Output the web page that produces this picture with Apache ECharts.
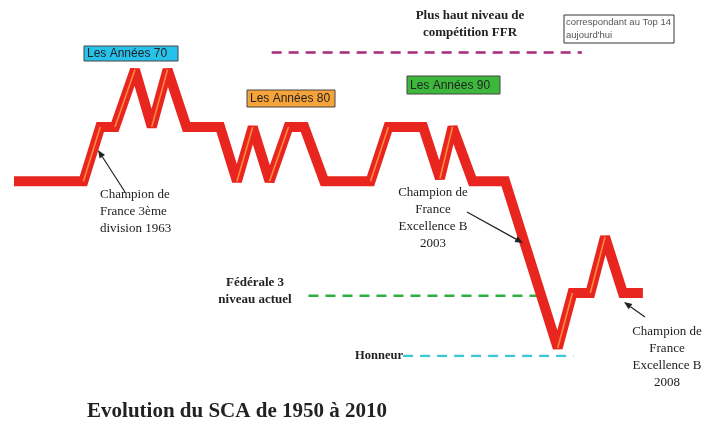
<!DOCTYPE html>
<html>
<head>
<meta charset="utf-8">
<title>Evolution du SCA de 1950 à 2010</title>
<script src="https://cdn.jsdelivr.net/npm/echarts@6/dist/echarts.min.js"></script>
<style>
html, body { margin: 0; padding: 0; background: #fff; }
#main { width: 715px; height: 423px; }
</style>
</head>
<body>
<div id="main"></div>
<script type="text/javascript">
// parcours du club : année (approx.) et niveau (0 = Honneur, 1 = Fédérale 3 ...)
var years  = [1950, 1956.6, 1958.2, 1959.6, 1961.5, 1963.1, 1964.6, 1966.4, 1969.6, 1971.2,
              1972.7, 1974.3, 1976.1, 1977.6, 1979.5, 1983.9, 1985.6, 1988.9, 1990.5, 1991.7,
              1993.6, 1996.7, 2001.7, 2003.1, 2004.8, 2006.2, 2007.9, 2009.8];
var levels = [3.05, 3.05, 4, 4, 5, 4, 5, 4, 4, 3.05,
              4, 3.05, 4, 4, 3.05, 3.05, 4, 4, 3.1, 4,
              3.05, 3.05, 0.14, 1.1, 1.1, 2.08, 1.1, 1.1];

// lignes de référence (pointillés)
var refNames  = ['Plus haut niveau', 'Fédérale 3', 'Honneur'];
var refFrom   = [1974.5, 1978.0, 1987.0];
var refTo     = [2004.0, 2000.3, 2003.2];
var refLevel  = [5.3, 1.05, 0];
var refColors = ['#a8287a', '#2fb043', '#3cc8d2'];

// les décennies
var decadeLabels = ['Les Années 70', 'Les Années 80', 'Les Années 90'];
var decadeColors = ['#27c2ec', '#f6a43a', '#3db83d'];

var chart = echarts.init(document.getElementById('main'));

// reflet orange sur les montées
var highlight = [];
for (var i = 0; i < years.length - 1; i++) {
    if (levels[i + 1] > levels[i]) {
        highlight.push([years[i], levels[i]], [years[i + 1], levels[i + 1]], [years[i + 1], '-']);
    }
}

var series = [];
for (var k = 0; k < refNames.length; k++) {
    series.push({
        name: refNames[k],
        type: 'line',
        symbol: 'none',
        silent: true,
        z: 1,
        data: [[refFrom[k], refLevel[k]], [refTo[k], refLevel[k]]],
        lineStyle: { color: refColors[k], width: 2.5, type: [10, 7] }
    });
}
series.push({
    name: 'SCA',
    type: 'line',
    symbol: 'none',
    clip: false,
    z: 3,
    data: years.map(function (y, i) { return [y, levels[i]]; }),
    lineStyle: { color: '#e8261f', width: 10, join: 'miter', miterLimit: 3 }
});
series.push({
    name: 'reflet',
    type: 'line',
    symbol: 'none',
    clip: false,
    z: 4,
    data: highlight,
    lineStyle: { color: '#ff8a3c', width: 1.6 }
});

var serif = '"Liberation Serif", "DejaVu Serif", serif';
var sans = '"Liberation Sans", Arial, sans-serif';

function txt(x, y, text, font, align) {
    return {
        type: 'text', x: x, y: y, z: 10,
        style: { text: text, font: font, fill: '#222', align: align || 'center', verticalAlign: 'middle' }
    };
}
function lines(x, y, arr, font, align, step) {
    return arr.map(function (t, i) { return txt(x, y + i * step, t, font, align); });
}
function arrow(x1, y1, x2, y2) {
    var a = Math.atan2(y2 - y1, x2 - x1), L = 8, W = 3.2;
    var bx = x2 - L * Math.cos(a), by = y2 - L * Math.sin(a);
    return [
        { type: 'line', z: 10, shape: { x1: x1, y1: y1, x2: bx, y2: by }, style: { stroke: '#222', lineWidth: 1.2 } },
        { type: 'polygon', z: 10, shape: { points: [[x2, y2],
            [bx + W * Math.sin(a), by - W * Math.cos(a)],
            [bx - W * Math.sin(a), by + W * Math.cos(a)]] }, style: { fill: '#222' } }
    ];
}
function box(x, y, w, h, fill, label, size) {
    return [
        { type: 'rect', z: 9, shape: { x: x, y: y, width: w, height: h }, style: { fill: fill, stroke: '#444', lineWidth: 1 } },
        txt(x + 3, y + h / 2 + 0.5, label, size + 'px ' + sans, 'left')
    ];
}

var graphics = [];
graphics = graphics.concat(box(84, 46, 94, 15, decadeColors[0], decadeLabels[0], 12));
graphics = graphics.concat(box(247, 90, 88, 17, decadeColors[1], decadeLabels[1], 12));
graphics = graphics.concat(box(407, 76, 93, 18, decadeColors[2], decadeLabels[2], 12));
graphics.push({ type: 'rect', z: 9, shape: { x: 564, y: 15, width: 110, height: 28 }, style: { fill: '#fff', stroke: '#333', lineWidth: 1 } });
graphics = graphics.concat(lines(566, 22, ['correspondant au Top 14', "aujourd'hui"], '9.5px ' + sans, 'left', 13).map(function (g) { g.style.fill = '#555'; return g; }));
graphics = graphics.concat(lines(470, 16, ['Plus haut niveau de', 'compétition FFR'], 'bold 13px ' + serif, 'center', 17));
graphics = graphics.concat(lines(100, 195, ['Champion de', 'France 3ème', 'division 1963'], '13px ' + serif, 'left', 16.8));
graphics = graphics.concat(lines(433, 193, ['Champion de', 'France', 'Excellence B', '2003'], '13px ' + serif, 'center', 16.8));
graphics = graphics.concat(lines(667, 332, ['Champion de', 'France', 'Excellence B', '2008'], '13px ' + serif, 'center', 17));
graphics = graphics.concat(lines(255, 283, ['Fédérale 3', 'niveau actuel'], 'bold 13px ' + serif, 'center', 17));
graphics.push(txt(403, 356, 'Honneur', 'bold 12.5px ' + serif, 'right'));
graphics.push(txt(237, 412, 'Evolution du SCA de 1950 à 2010', 'bold 21px ' + serif, 'center'));
graphics = graphics.concat(arrow(125, 192, 98, 150));
graphics = graphics.concat(arrow(467, 212, 523, 243));
graphics = graphics.concat(arrow(645, 317, 624, 302));

chart.setOption({
    backgroundColor: '#ffffff',
    animation: false,
    grid: { left: 14, right: 70, top: 41, bottom: 67 },
    xAxis: { type: 'value', min: 1950, max: 2010, show: false },
    yAxis: { type: 'value', min: 0, max: 5.5, show: false },
    series: series,
    graphic: graphics
});
</script>
</body>
</html>
